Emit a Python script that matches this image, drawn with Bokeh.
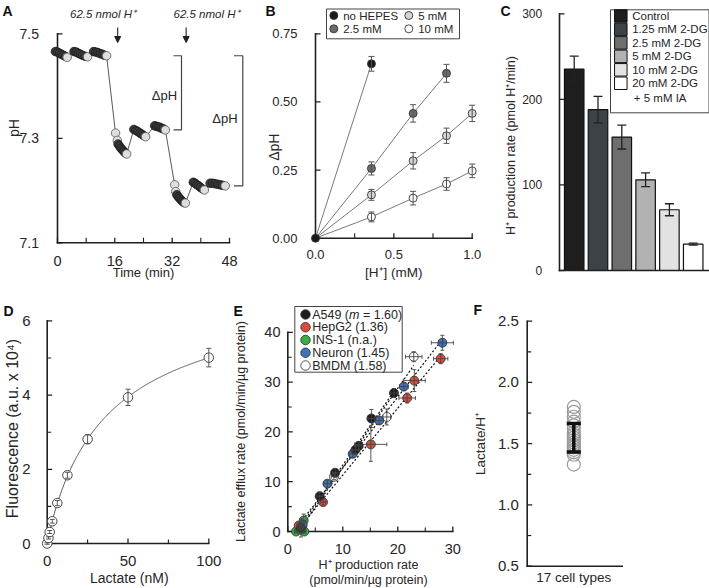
import numpy as np
from bokeh.plotting import figure
from bokeh.models import Range1d, Arrow, NormalHead
from bokeh.layouts import row, column
from bokeh.embed import file_html
from bokeh.resources import INLINE
from bokeh.core.properties import value

FONT = "Liberation Sans"
INK = "#1f1f1f"
TXT = "#262626"

# ======================= DATA =======================
# ---- A : pH trace ----
a_time = [-0.6, 0.0, 0.5, 1.1, 1.6, 2.2, 2.7,
          4.6, 5.2, 5.8, 6.4, 7.0, 7.7, 8.4,
          10.1, 10.7, 11.3, 11.9, 12.5, 13.1, 13.7,
          16.2, 16.7, 16.9, 17.3, 17.7, 18.1, 18.5, 18.9, 19.3,
          21.3, 21.9, 22.4, 23.0, 23.5, 24.1, 24.6,
          27.1, 27.6, 28.1, 28.6, 29.1, 29.6, 30.1,
          32.7, 33.0, 33.3, 33.7, 34.1, 34.5, 34.9, 35.3, 35.7,
          37.9, 38.4, 38.9, 39.4, 39.9, 40.5, 41.0,
          42.6, 43.3, 44.0, 44.7, 45.4, 46.1, 46.8]
a_ph = [7.466, 7.465, 7.463, 7.461, 7.459, 7.457, 7.455,
        7.466, 7.465, 7.463, 7.461, 7.459, 7.457, 7.456,
        7.466, 7.465, 7.464, 7.462, 7.461, 7.459, 7.458,
        7.310, 7.296, 7.289, 7.285, 7.281, 7.278, 7.275, 7.272, 7.270,
        7.317, 7.315, 7.313, 7.310, 7.308, 7.305, 7.303,
        7.324, 7.323, 7.322, 7.321, 7.319, 7.318, 7.316,
        7.211, 7.198, 7.192, 7.188, 7.185, 7.182, 7.179, 7.177, 7.176,
        7.216, 7.214, 7.211, 7.209, 7.206, 7.203, 7.201,
        7.214, 7.214, 7.213, 7.212, 7.211, 7.210, 7.209]
a_run = ([0] * 7 + [1] * 7 + [2] * 7 + [3] * 9 + [4] * 7 + [5] * 7 +
         [6] * 9 + [7] * 7 + [8] * 7)
a_drop_runs = [3, 6]
a_add_time = [16.8, 35.9]
a_add_text = "62.5 nmol H\u207a"
a_xticks = [0, 16, 32, 48]
a_xminor = [8, 24, 40]
a_yticks = [7.1, 7.3, 7.5]

# ---- B : dpH vs added H+ ----
b_h = [0.0, 0.357, 0.623, 0.836, 1.0]
b_series = ["no HEPES", "2.5 mM", "5 mM", "10 mM"]
b_dph = {"no HEPES": [0.0, 0.640],
         "2.5 mM": [0.0, 0.256, 0.458, 0.605],
         "5 mM": [0.0, 0.159, 0.284, 0.376, 0.458],
         "10 mM": [0.0, 0.078, 0.147, 0.199, 0.247]}
b_err = {"no HEPES": [0.0, 0.027],
         "2.5 mM": [0.0, 0.024, 0.032, 0.033],
         "5 mM": [0.0, 0.020, 0.030, 0.028, 0.030],
         "10 mM": [0.0, 0.018, 0.025, 0.023, 0.025]}
b_xticks = [0.0, 0.5, 1.0]
b_xminor = [0.25, 0.75]
b_yticks = [0.0, 0.25, 0.5, 0.75]

# ---- C : H+ production with 2-DG ----
c_groups = ["Control", "1.25 mM 2-DG", "2.5 mM 2-DG", "5 mM 2-DG",
            "10 mM 2-DG", "20 mM 2-DG\n+ 5 mM IA"]
c_rate = [235.5, 188.0, 156.0, 106.0, 71.0, 30.8]
c_err = [15.0, 15.5, 14.0, 8.0, 7.0, 1.2]
c_yticks = [0, 100, 200, 300]

# ---- D : lactate standard curve ----
d_lactate = [0, 0.78, 1.56, 3.125, 6.25, 12.5, 25, 50, 100]
d_fluor = [0.0, 0.15, 0.31, 0.60, 1.09, 1.84, 2.81, 3.94, 5.01]
d_err = [0.02, 0.03, 0.04, 0.05, 0.07, 0.08, 0.12, 0.22, 0.25]
d_xticks = [0, 50, 100]
d_xminor = [25, 75]
d_yticks = [0, 2, 4, 6]
d_yminor = [1, 3, 5]

# ---- E : lactate efflux vs H+ production ----
e_names = ["A549", "HepG2", "INS-1", "Neuron", "BMDM"]
e_notes = ["(m = 1.60)", "(1.36)", "(n.a.)", "(1.45)", "(1.58)"]
e_x = {"A549": [2.4, 5.8, 8.6, 12.3, 12.9, 15.2, 19.3],
       "HepG2": [2.0, 6.4, 15.1, 21.7, 23.0, 27.8],
       "INS-1": [1.5, 3.0, 2.9, 2.3],
       "Neuron": [2.7, 7.2, 11.8, 16.6, 21.1, 28.1],
       "BMDM": [2.5, 8.4, 18.0, 22.9]}
e_y = {"A549": [0.7, 7.1, 11.8, 16.4, 17.2, 22.7, 27.8],
       "HepG2": [1.2, 5.9, 17.5, 26.8, 30.3, 34.7],
       "INS-1": [0.0, 0.0, 2.2, 0.4],
       "Neuron": [1.3, 9.6, 15.6, 22.3, 29.1, 37.9],
       "BMDM": [1.0, 11.0, 23.0, 35.1]}
e_xerr = {"A549": [0.6, 0.5, 0.5, 0.6, 0.5, 0.6, 0.6],
          "HepG2": [0.4, 0.5, 2.9, 1.5, 2.0, 1.3],
          "INS-1": [0.3, 0.3, 0.4, 0.3],
          "Neuron": [0.4, 0.6, 0.6, 0.8, 0.8, 2.0],
          "BMDM": [0.4, 0.5, 0.7, 1.5]}
e_yerr = {"A549": [1.8, 0.8, 0.8, 0.8, 0.8, 1.8, 0.9],
          "HepG2": [0.5, 0.6, 3.4, 1.0, 2.2, 1.0],
          "INS-1": [0.3, 0.3, 1.3, 0.3],
          "Neuron": [0.5, 0.7, 0.7, 0.8, 0.8, 1.5],
          "BMDM": [0.5, 0.6, 1.6, 1.0]}
e_fit_groups = ["A549", "HepG2", "Neuron", "BMDM"]
e_xticks = [0, 10, 20, 30]
e_xminor = [5, 15, 25]
e_yticks = [0, 10, 20, 30, 40]
e_yminor = [5, 15, 25, 35]

# ---- F : lactate/H+ ratio of 17 cell types ----
f_ratio = [1.80, 1.76, 1.72, 1.68, 1.65, 1.62, 1.59, 1.57, 1.55, 1.53,
           1.51, 1.49, 1.47, 1.45, 1.43, 1.41, 1.33]
f_mean = 1.548
f_sd = 0.116
f_category = "17 cell types"
f_yticks = [0.5, 1.0, 1.5, 2.0, 2.5]
f_yminor = [0.75, 1.25, 1.75, 2.25]


# ======================= HELPERS =======================
class Panel:
    """A figure whose frame fills it; page pixels map linearly to data."""
    def __init__(self, box, xmap, ymap):
        l, t, w, h = box
        self.xmap, self.ymap = xmap, ymap
        xr = Range1d(self.X(l), self.X(l + w))
        yr = Range1d(self.Y(t + h), self.Y(t))
        p = figure(width=w, height=h, x_range=xr, y_range=yr,
                   output_backend="svg", toolbar_location=None, tools="",
                   x_axis_location=None, y_axis_location=None,
                   min_border=0, min_border_left=0, min_border_right=0,
                   min_border_top=0, min_border_bottom=0)
        p.outline_line_color = None
        p.grid.visible = False
        p.background_fill_color = "white"
        p.border_fill_color = "white"
        self.p = p

    def X(self, px):
        v, at, ppu = self.xmap
        return v + (px - at) / ppu

    def Y(self, py):
        v, at, ppu = self.ymap
        return v + (at - py) / ppu

    def dx(self, px):
        return px / self.xmap[2]

    def dy(self, py):
        return py / self.ymap[2]


def text(P, xs, ys, texts, size, align="center", baseline="middle", angle=0.0,
         style="normal", color=TXT):
    P.p.text(x=list(xs), y=list(ys), text=list(texts), text_font=value(FONT),
             text_font_size=value(f"{size}px"), text_align=value(align),
             text_baseline=value(baseline), angle=angle,
             text_font_style=value(style), text_color=color)


def y_axis(P, x_px, lo, hi, ticks, minor, fmt, fs, label_right_px, tick=5, mtick=4):
    p = P.p
    x = P.X(x_px)
    p.segment([x], [lo], [x], [hi], line_color=INK, line_width=1.6, line_cap="square")
    if ticks:
        p.segment([x] * len(ticks), ticks, [x + P.dx(tick)] * len(ticks), ticks,
                  line_color=INK, line_width=1.3)
        text(P, [P.X(label_right_px)] * len(ticks), ticks,
             [fmt.format(t) for t in ticks], fs, align="right")
    if minor:
        p.segment([x] * len(minor), minor, [x + P.dx(mtick)] * len(minor), minor,
                  line_color=INK, line_width=1.1)


def x_axis(P, y_px, lo, hi, ticks, minor, fmt, fs, label_center_px, tick=5, mtick=4):
    p = P.p
    y = P.Y(y_px)
    p.segment([lo], [y], [hi], [y], line_color=INK, line_width=1.6, line_cap="square")
    if ticks:
        p.segment(ticks, [y] * len(ticks), ticks, [y + P.dy(tick)] * len(ticks),
                  line_color=INK, line_width=1.3)
        text(P, ticks, [P.Y(label_center_px)] * len(ticks),
             [fmt.format(t) for t in ticks], fs)
    if minor:
        p.segment(minor, [y] * len(minor), minor, [y + P.dy(mtick)] * len(minor),
                  line_color=INK, line_width=1.1)


def errbars(P, base, center, err, dim, color, width, head):
    keep = [i for i, e in enumerate(err) if e > 0]
    b = [base[i] for i in keep]
    lo = [center[i] - err[i] for i in keep]
    hi = [center[i] + err[i] for i in keep]
    p = P.p
    if dim == "height":
        hw = P.dx(head / 2.0)
        p.segment(b, lo, b, hi, line_color=color, line_width=width)
        p.segment([v - hw for v in b], lo, [v + hw for v in b], lo, line_color=color, line_width=width)
        p.segment([v - hw for v in b], hi, [v + hw for v in b], hi, line_color=color, line_width=width)
    else:
        hh = P.dy(head / 2.0)
        p.segment(lo, b, hi, b, line_color=color, line_width=width)
        p.segment(lo, [v - hh for v in b], lo, [v + hh for v in b], line_color=color, line_width=width)
        p.segment(hi, [v - hh for v in b], hi, [v + hh for v in b], line_color=color, line_width=width)


def letter(P, px, py, s):
    text(P, [P.X(px)], [P.Y(py)], [s], 14, align="left", baseline="top", style="bold", color="#111111")


# ======================= PANEL A =======================
A = Panel((0, 0, 250, 294), (0, 57, 3.583), (7.1, 242.3, 522.5))
pa = A.p
y_axis(A, 57, 7.1, 7.5, a_yticks, [], "{:.1f}", 14, 38.5)
x_axis(A, 242.3, 0, 48, a_xticks, a_xminor, "{:.0f}", 14.5, 260.5, mtick=5)

pa.line(a_time, a_ph, line_color="#5a5a5a", line_width=1)
fills, lines = [], []
for i, r in enumerate(a_run):
    last = (i == len(a_run) - 1) or (a_run[i + 1] != r)
    early = r in a_drop_runs and (i - a_run.index(r)) < 2
    if last or early:
        fills.append("#dedede"); lines.append("#555555")
    else:
        fills.append("#3a3a3a"); lines.append("#1a1a1a")
pa.scatter(a_time, a_ph, size=8.5, fill_color=fills, line_color=lines, line_width=0.8)

for t, cx in zip(a_add_time, [102.5, 206.0]):
    pa.add_layout(Arrow(end=NormalHead(size=6, fill_color=INK, line_color=INK),
                        x_start=t, y_start=A.Y(27), x_end=t, y_end=A.Y(42),
                        line_color=INK, line_width=1.1))
    text(A, [A.X(cx)], [A.Y(13.5)], [a_add_text], 11.5, style="italic")


def run_last(r):
    idx = [i for i, v in enumerate(a_run) if v == r][-1]
    return a_ph[idx]


top = run_last(2)
for (xv, xt, bot, tx, ty) in [(181, 173, run_last(5), 164, 95),
                              (242.3, 233.5, run_last(8), 224.5, 118.3)]:
    pa.multi_line([[A.X(xt), A.X(xv), A.X(xv), A.X(xt)]], [[top, top, bot, bot]],
                  line_color="#444444", line_width=1.2)
    text(A, [A.X(tx)], [A.Y(ty)], ["\u0394pH"], 13)

text(A, [A.X(13.3)], [A.Y(127.5)], ["pH"], 14, angle=np.pi / 2)
text(A, [A.X(143)], [A.Y(271.7)], ["Time (min)"], 13)
letter(A, 2, 2, "A")

# ======================= PANEL B =======================
B = Panel((250, 0, 245, 294), (0, 315, 156.7), (0, 237.7, 272.5))
pb = B.p
y_axis(B, 315, 0, 0.75, b_yticks, [], "{:.2f}", 13, 297)
x_axis(B, 237.7, 0, 1.0, b_xticks, b_xminor, "{:.1f}", 13, 254.3, mtick=5)

b_fill = {"no HEPES": "#1a1a1a", "2.5 mM": "#6b6b6b", "5 mM": "#d4d4d4", "10 mM": "#ffffff"}
for s in b_series[::-1]:
    ys = b_dph[s]
    pb.line(b_h[:len(ys)], ys, line_color="#7a7a7a", line_width=1)
for s in b_series[::-1]:
    ys = b_dph[s]
    xs = b_h[:len(ys)]
    pb.scatter(xs[1:], ys[1:], size=8, fill_color=b_fill[s], line_color="#333333", line_width=0.9)
    errbars(B, xs, ys, b_err[s], "height", "#555555", 1, 6)
pb.scatter([b_h[0]], [b_dph["no HEPES"][0]], size=8, fill_color=b_fill["no HEPES"],
           line_color="#333333", line_width=0.9)

pb.quad(left=[B.X(326)], right=[B.X(459)], top=[B.Y(8.5)], bottom=[B.Y(38.3)],
        fill_color="white", line_color="#444444", line_width=1)
for i, s in enumerate(b_series):
    cx = 333.3 if i in (0, 1) else 408.3
    cy = 15.0 if i in (0, 2) else 28.3
    pb.scatter([B.X(cx)], [B.Y(cy)], size=8, fill_color=b_fill[s], line_color="#333333", line_width=0.9)
    text(B, [B.X(cx + 9.4)], [B.Y(cy)], [s], 11.5, align="left")

text(B, [B.X(273.3)], [B.Y(146.7)], ["\u0394pH"], 14, angle=np.pi / 2)
text(B, [B.X(393.3)], [B.Y(272.3)], ["[H\u207a] (mM)"], 13.5)
letter(B, 265, 2, "B")

# ======================= PANEL C =======================
C = Panel((495, 0, 214, 294), (0, 573.7, 23.8), (0, 270, 0.8556))
pc = C.p
c_fill = ["#1e1e1e", "#3c4245", "#6e6e6e", "#b2b2b2", "#e2e2e2", "#ffffff"]
c_x = list(range(len(c_groups)))
pc.vbar(x=c_x, width=0.82, top=c_rate, bottom=0, fill_color=c_fill,
        line_color="#111111", line_width=1.2)
errbars(C, c_x, c_rate, c_err, "height", "#222222", 1.3, 9)
y_axis(C, 559, 0, 300, c_yticks, [], "{:.0f}", 12, 541.7)
x_axis(C, 270, C.X(559), C.X(709), [], [], "{}", 12, 0)

pc.quad(left=[C.X(610)], right=[C.X(708.5)], top=[C.Y(9.3)], bottom=[C.Y(112.3)],
        fill_color="white", line_color="#444444", line_width=1)
for i, g in enumerate(c_groups):
    cy = 15.5 + 13.45 * i
    pc.scatter([C.X(620.3)], [C.Y(cy)], marker="square", size=12.5, fill_color=c_fill[i],
               line_color="#111111", line_width=1)
    parts = g.split("\n")
    text(C, [C.X(631.7)], [C.Y(cy)], [parts[0]], 11.5, align="left")
    if len(parts) > 1:
        text(C, [C.X(633.3)], [C.Y(cy + 15)], [parts[1]], 11.5, align="left")

text(C, [C.X(510.5)], [C.Y(145)], ["H\u207a production rate (pmol H\u207a/min)"], 12.5, angle=np.pi / 2)
letter(C, 500, 2, "C")

# ======================= PANEL D =======================
D = Panel((0, 294, 232, 294), (0, 46.7, 1.616), (0, 543, 37.1))
pd_ = D.p
xd = np.asarray(d_lactate, float)
yd = np.asarray(d_fluor, float)
best = (np.inf, None)
for n in np.linspace(0.7, 1.8, 56):
    for K in np.linspace(5, 120, 231):
        basis = xd ** n / (K ** n + xd ** n)
        bmax = basis @ yd / (basis @ basis)
        err = np.sum((bmax * basis - yd) ** 2)
        if err < best[0]:
            best = (err, (bmax, K, n))
bmax, K, n = best[1]
xf = np.linspace(0, 100, 300)
pd_.line(xf, bmax * xf ** n / (K ** n + xf ** n), line_color="#555555", line_width=1)
y_axis(D, 46.7, 0, 6, d_yticks, d_yminor, "{:.0f}", 15, 30)
x_axis(D, 543, 0, 100, d_xticks, d_xminor, "{:.0f}", 15, 560)
pd_.scatter(d_lactate, d_fluor, size=9.5, fill_color="white", line_color="#444444", line_width=1)
errbars(D, d_lactate, d_fluor, d_err, "height", "#555555", 1, 5)

text(D, [D.X(11.7)], [D.Y(428)], ["Fluorescence (a.u. x 10\u2074)"], 16, angle=np.pi / 2)
text(D, [D.X(128.8)], [D.Y(577.7)], ["Lactate (nM)"], 14)
letter(D, 3, 302, "D")

# ======================= PANEL E =======================
E = Panel((232, 294, 236, 294), (0, 287.3, 5.5), (0, 531, 4.98))
pe = E.p
e_fill = {"A549": "#1c1c1c", "HepG2": "#dc4a40", "INS-1": "#3aac48",
          "Neuron": "#3f73b8", "BMDM": "#ffffff"}
y_axis(E, 287.3, 0, 40, e_yticks, e_yminor, "{:.0f}", 14.5, 280)
x_axis(E, 531, 0, 30, e_xticks, e_xminor, "{:.0f}", 14.5, 548)
for g in e_fit_groups:
    xs = np.asarray(e_x[g]); ys = np.asarray(e_y[g])
    m, c0 = np.polyfit(xs, ys, 1)
    x_line = np.array([xs.min(), xs.max()])
    pe.line(x_line, m * x_line + c0, line_color="#111111", line_width=1.2, line_dash="2 2")
for g in ["BMDM", "INS-1", "HepG2", "Neuron", "A549"]:
    pe.scatter(e_x[g], e_y[g], size=9, fill_color=e_fill[g], line_color="#2a2a2a", line_width=0.8)
for g in e_names:
    errbars(E, e_x[g], e_y[g], e_yerr[g], "height", "#444444", 0.9, 4)
    errbars(E, e_y[g], e_x[g], e_xerr[g], "width", "#444444", 0.9, 4)

pe.quad(left=[E.X(294.3)], right=[E.X(401.7)], top=[E.Y(306)], bottom=[E.Y(371.7)],
        fill_color="white", line_color="#444444", line_width=1)
fs_leg = 12.5
for i, g in enumerate(e_names):
    cy = 314 + 12.75 * i
    pe.scatter([E.X(305)], [E.Y(cy)], size=9.5, fill_color=e_fill[g],
               line_color="#2a2a2a", line_width=0.8)
    note = e_notes[i]
    if note.startswith("(m"):
        text(E, [E.X(311.7)], [E.Y(cy)], [g + " ("], fs_leg, align="left")
        x_m = 311.7 + 2.946 * fs_leg
        text(E, [E.X(x_m)], [E.Y(cy)], ["m"], fs_leg, align="left", style="italic")
        rest = note.split("m", 1)[1].strip()
        text(E, [E.X(x_m + (0.833 + 0.278) * fs_leg)], [E.Y(cy)], [rest], fs_leg, align="left")
    else:
        text(E, [E.X(311.7)], [E.Y(cy)], [g + " " + note], fs_leg, align="left")

text(E, [E.X(240)], [E.Y(431)], ["Lactate efflux rate (pmol/min/\u00b5g protein)"], 12.5, angle=np.pi / 2)
text(E, [E.X(368)], [E.Y(564)], ["H\u207a production rate"], 12.5)
text(E, [E.X(368)], [E.Y(579)], ["(pmol/min/\u00b5g protein)"], 12.5)
letter(E, 233, 302, "E")

# ======================= PANEL F =======================
F = Panel((468, 294, 241, 294), (0, 573.3, 10), (0.5, 565.7, 122.5))
pf = F.p
y_axis(F, 526.7, 0.5, 2.5, f_yticks, f_yminor, "{:.1f}", 15, 518.3)
x_axis(F, 565.7, F.X(526.7), F.X(621.7), [], [], "{}", 12, 0)
pf.scatter([0] * len(f_ratio), f_ratio, size=13, fill_color=None, line_color="#9a9a9a", line_width=1.2)
errbars(F, [0], [f_mean], [f_sd], "height", "#111111", 3.5, 14)

text(F, [F.X(480)], [F.Y(443)], ["Lactate/H\u207a"], 13.5, angle=np.pi / 2)
text(F, [F.X(573.3)], [F.Y(577.3)], [f_category], 13.5)
letter(F, 473, 301, "F")

layout = column(row(pa, pb, pc, spacing=0), row(pd_, pe, pf, spacing=0), spacing=0)
open("out.html", "w").write(file_html(layout, INLINE))
